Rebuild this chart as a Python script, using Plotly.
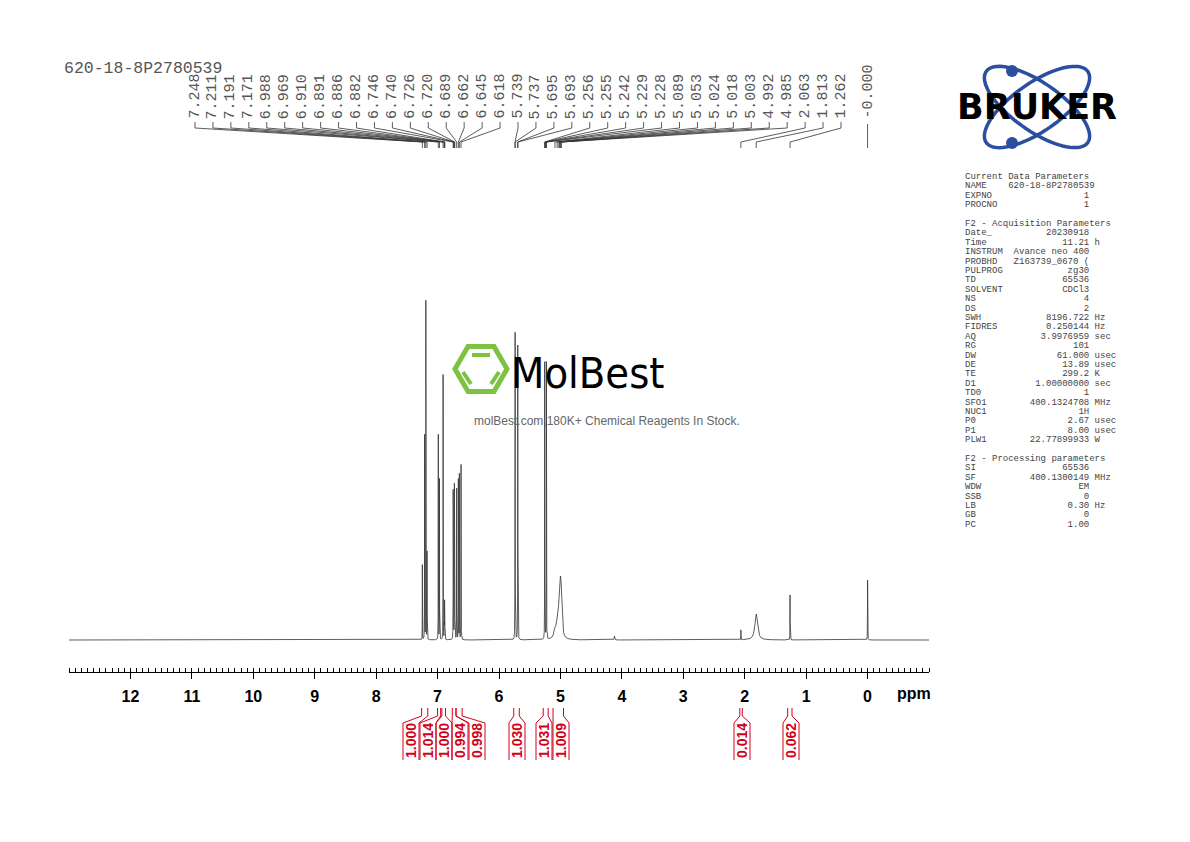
import numpy as np
import plotly.graph_objects as go

# peak list: shift (ppm), height (px above baseline), half width (ppm)
peak_ppm = [7.248, 7.211, 7.191, 7.171, 6.988, 6.969, 6.910, 6.891, 6.886, 6.882,
            6.746, 6.740, 6.726, 6.720, 6.689, 6.662, 6.645, 6.618,
            5.739, 5.737, 5.695, 5.693, 5.256, 5.255, 5.242, 5.229, 5.228,
            5.089, 5.053, 5.024, 5.018, 5.003, 4.992, 4.985,
            4.12, 2.063, 1.813, 1.262, 0.000]
peak_height = [75, 210, 348, 90, 205, 165, 265, 35, 35, 30,
               145, 120, 150, 130, 155, 160, 170, 175,
               240, 240, 230, 230, 163, 163, 10, 163, 163,
               8, 12, 14, 14, 30, 22, 18,
               4, 10, 26, 45, 60]
peak_width = [0.0012] * 27 + [0.02, 0.02, 0.015, 0.015, 0.012, 0.012, 0.015,
                              0.004, 0.0015, 0.025, 0.0015, 0.0015]

# peak label texts (top)
label_texts = ["7.248", "7.211", "7.191", "7.171", "6.988", "6.969", "6.910", "6.891",
               "6.886", "6.882", "6.746", "6.740", "6.726", "6.720", "6.689", "6.662",
               "6.645", "6.618", "5.739", "5.737", "5.695", "5.693", "5.256", "5.255",
               "5.242", "5.229", "5.228", "5.089", "5.053", "5.024", "5.018", "5.003",
               "4.992", "4.985", "2.063", "1.813", "1.262"]

# integrals
int_left = [7.26, 7.00, 6.93, 6.76, 6.70, 5.76, 5.28, 5.12, 2.08, 1.30]
int_right = [7.16, 6.95, 6.87, 6.70, 6.60, 5.67, 5.20, 4.95, 2.04, 1.23]
int_values = ["1.000", "1.014", "1.000", "0.994", "0.998", "1.030", "1.031", "1.009", "0.014", "0.062"]
int_label_px = [411, 428, 444, 460, 477, 517, 544, 561, 742, 791]

params = [
    ("Current Data Parameters", "", ""),
    ("NAME", "620-18-8P2780539", ""),
    ("EXPNO", "1", ""),
    ("PROCNO", "1", ""),
    ("", "", ""),
    ("F2 - Acquisition Parameters", "", ""),
    ("Date_", "20230918", ""),
    ("Time", "11.21", "h"),
    ("INSTRUM", "Avance neo 400", ""),
    ("PROBHD", "Z163739_0670 (", ""),
    ("PULPROG", "zg30", ""),
    ("TD", "65536", ""),
    ("SOLVENT", "CDCl3", ""),
    ("NS", "4", ""),
    ("DS", "2", ""),
    ("SWH", "8196.722", "Hz"),
    ("FIDRES", "0.250144", "Hz"),
    ("AQ", "3.9976959", "sec"),
    ("RG", "101", ""),
    ("DW", "61.000", "usec"),
    ("DE", "13.89", "usec"),
    ("TE", "299.2", "K"),
    ("D1", "1.00000000", "sec"),
    ("TD0", "1", ""),
    ("SFO1", "400.1324708", "MHz"),
    ("NUC1", "1H", ""),
    ("P0", "2.67", "usec"),
    ("P1", "8.00", "usec"),
    ("PLW1", "22.77899933", "W"),
    ("", "", ""),
    ("F2 - Processing parameters", "", ""),
    ("SI", "65536", ""),
    ("SF", "400.1300149", "MHz"),
    ("WDW", "EM", ""),
    ("SSB", "0", ""),
    ("LB", "0.30", "Hz"),
    ("GB", "0", ""),
    ("PC", "1.00", ""),
]

# pixel helpers relative to the plot area (x 69..929, y 160..672 in the reference)
def xp(px):
    return (px - 69) / 860

def yp(py):
    return (672 - py) / 512

def ppm_px(ppm):
    return 69 + (13 - ppm) * 860 / 14

# spectrum
x = np.arange(13.0, -1.0, -0.0004)
y = np.zeros_like(x)
for p, h, w in zip(peak_ppm, peak_height, peak_width):
    y += h / (1 + ((x - p) / w) ** 2)

fig = go.Figure()
fig.add_trace(go.Scatter(x=x, y=y, mode="lines", line=dict(color="#333333", width=0.8),
                         hoverinfo="skip", showlegend=False))

shapes = []
ann = []
GRAY = "#555555"

# peak labels and connectors
n = len(label_texts)
for i, t in enumerate(label_texts):
    lx = 195 + i * (841 - 195) / (n - 1)
    px = ppm_px(float(t))
    ann.append(dict(x=xp(lx), y=yp(121), xref="paper", yref="paper", text=t, textangle=-90,
                    showarrow=False, xanchor="center", yanchor="bottom",
                    font=dict(family="Liberation Mono", size=15, color=GRAY)))
    path = f"M {xp(lx)} {yp(122)} L {xp(lx)} {yp(128)} L {xp(px)} {yp(142)} L {xp(px)} {yp(148)}"
    shapes.append(dict(type="path", path=path, xref="paper", yref="paper",
                       line=dict(color="#333333", width=0.8)))
zx = ppm_px(0.0)
ann.append(dict(x=xp(zx), y=yp(121), xref="paper", yref="paper", text="-0.000", textangle=-90,
                showarrow=False, xanchor="center", yanchor="bottom",
                font=dict(family="Liberation Mono", size=15, color=GRAY)))
shapes.append(dict(type="line", x0=xp(zx), x1=xp(zx), y0=yp(124), y1=yp(148), xref="paper",
                   yref="paper", line=dict(color="#333333", width=0.8)))

# integrals
RED = "#d0021b"
for l, r, v, lx in zip(int_left, int_right, int_values, int_label_px):
    a, b = ppm_px(l), ppm_px(r)
    for e, s in ((a, lx - 8), (b, lx + 8)):
        path = f"M {xp(e)} {yp(708)} L {xp(e)} {yp(716)} L {xp(s)} {yp(723)} L {xp(s)} {yp(760)}"
        shapes.append(dict(type="path", path=path, xref="paper", yref="paper",
                           line=dict(color=RED, width=1)))
    ann.append(dict(x=xp(lx), y=yp(741), xref="paper", yref="paper", text="<b>" + v + "</b>",
                    textangle=-90, showarrow=False, xanchor="center", yanchor="middle",
                    font=dict(family="Liberation Sans", size=14, color=RED)))

# header
ann.append(dict(x=xp(62), y=yp(68), xref="paper", yref="paper", text="620-18-8P2780539",
                showarrow=False, xanchor="left", yanchor="middle",
                font=dict(family="Liberation Mono", size=16.5, color=GRAY)))
ann.append(dict(x=xp(895), y=yp(693), xref="paper", yref="paper", text="<b>ppm</b>",
                showarrow=False, xanchor="left", yanchor="middle",
                font=dict(family="Liberation Sans", size=16, color="black")))

# parameter block
NB = "\u00a0"
for i, (k, v, u) in enumerate(params):
    if v == "" and u == "":
        line = k
    else:
        line = k.ljust(8) + v.rjust(15) + ((" " + u) if u else "")
    ann.append(dict(x=xp(963), y=yp(177 + i * 9.4), xref="paper", yref="paper",
                    text=line.replace(" ", NB), showarrow=False, xanchor="left", yanchor="middle",
                    font=dict(family="Liberation Mono", size=9, color="#444444")))

# Bruker logo
BLUE = "#2b4fa0"
t = np.linspace(0, 2 * np.pi, 80)
for ang in (np.radians(35), np.radians(-35)):
    ex = 1037 + 62 * np.cos(t) * np.cos(ang) - 24 * np.sin(t) * np.sin(ang)
    ey = 107 + 62 * np.cos(t) * np.sin(ang) + 24 * np.sin(t) * np.cos(ang)
    path = "M " + " L ".join(f"{xp(a)} {yp(b)}" for a, b in zip(ex, ey)) + " Z"
    shapes.append(dict(type="path", path=path, xref="paper", yref="paper",
                       line=dict(color=BLUE, width=3.5)))
for cy in (71, 143):
    shapes.append(dict(type="circle", xref="paper", yref="paper", x0=xp(1006), x1=xp(1018),
                       y0=yp(cy - 6), y1=yp(cy + 6), fillcolor=BLUE, line=dict(width=0)))
ann.append(dict(x=xp(1037), y=yp(107), xref="paper", yref="paper", text="<b>BRUKER</b>",
                showarrow=False, xanchor="center", yanchor="middle",
                font=dict(family="DejaVu Sans", size=35, color="black")))

# MolBest watermark
GREEN = "#7dc242"
h = np.linspace(0, 2 * np.pi, 7)
hx = 481 + 26 * np.cos(h)
hy = 369 + 26 * np.sin(h)
path = "M " + " L ".join(f"{xp(a)} {yp(b)}" for a, b in zip(hx, hy)) + " Z"
shapes.append(dict(type="path", path=path, xref="paper", yref="paper",
                   line=dict(color=GREEN, width=5)))
for (a0, b0, a1, b1) in ((472, 355, 490, 355), (463, 372, 471, 384), (499, 372, 491, 384)):
    shapes.append(dict(type="line", xref="paper", yref="paper", x0=xp(a0), x1=xp(a1),
                       y0=yp(b0), y1=yp(b1), line=dict(color=GREEN, width=4)))
ann.append(dict(x=xp(509), y=yp(373), xref="paper", yref="paper", text="MolBest",
                showarrow=False, xanchor="left", yanchor="middle",
                font=dict(family="DejaVu Sans Condensed", size=43, color="black")))
ann.append(dict(x=xp(607), y=yp(421), xref="paper", yref="paper",
                text="molBest.com,180K+ Chemical Reagents In Stock.", showarrow=False,
                xanchor="center", yanchor="middle",
                font=dict(family="Liberation Sans", size=12, color="#666666")))

fig.update_layout(
    width=1190, height=842, autosize=False,
    margin=dict(l=61, r=269, t=152, b=178),
    paper_bgcolor="white", plot_bgcolor="white",
    shapes=shapes, annotations=ann, showlegend=False,
    xaxis=dict(range=[13, -1], tickvals=list(range(0, 13)), ticks="outside", ticklen=6,
               tickcolor="black", showline=True, linecolor="black", linewidth=1,
               showgrid=False, zeroline=False, ticklabelstandoff=4,
               tickfont=dict(family="Liberation Sans", size=16, color="black", weight="bold"),
               minor=dict(dtick=0.1, ticks="inside", ticklen=4, tickcolor="black")),
    yaxis=dict(range=[-32, 480], visible=False),
)

fig.write_html("out.html")
